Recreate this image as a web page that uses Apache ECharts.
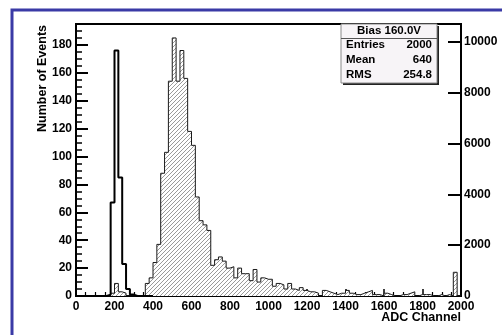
<!DOCTYPE html>
<html>
<head>
<meta charset="utf-8">
<script src="https://cdn.jsdelivr.net/npm/echarts@6/dist/echarts.min.js"></script>
<style>
html, body { margin: 0; padding: 0; background: #fff; }
#chart-h1 { width: 502px; height: 335px; }
</style>
</head>
<body>
<div id="chart-h1"></div>
<script>
// bins are 20 ADC channels wide, 100 bins from 0 to 2000
var binWidth = 20;

// hatched histogram (Bias 160.0V), counts per bin
var biasCounts = [
    0, 0, 0, 0, 0, 0, 0, 0, 0, 2,
    9, 3, 2, 0, 0, 0, 0, 0, 9, 13,
    24, 37, 88, 103, 154, 185, 154, 176, 156, 118,
    108, 71, 54, 51, 47, 22, 26, 28, 25, 20,
    21, 13, 20, 16, 16, 11, 19, 10, 13, 12,
    12, 7, 9, 8, 5, 9, 5, 4, 6, 4,
    3, 3, 2, 0, 4, 3, 2, 1, 2, 2,
    4, 2, 1, 1, 2, 3, 4, 1, 1, 0,
    2, 1, 0, 0, 1, 1, 2, 3, 0, 1,
    1, 1, 0, 0, 1, 0, 1, 0, 17, 0
];

// thick open histogram (pedestal), counts per bin
var pedestalCounts = [
    0, 0, 0, 0, 0, 0, 0, 0, 1, 67,
    176, 85, 23, 5, 1, 0, 0, 0, 0, 0
];

var statsTitle = 'Bias 160.0V';
var statsRows = [
    ['Entries', '2000'],
    ['Mean', '640'],
    ['RMS', '254.8']
];

var FONT = '"Liberation Sans", Arial, sans-serif';

// [binStart, count] pairs + closing point at the upper edge, for step lines
function stepData(counts) {
    var d = [];
    for (var i = 0; i < counts.length; i++) {
        d.push([i * binWidth, counts[i]]);
    }
    d.push([counts.length * binWidth, counts[counts.length - 1]]);
    return d;
}

// "////" hatch fill
function hatchPattern() {
    var c = document.createElement('canvas');
    c.width = 4;
    c.height = 4;
    var g = c.getContext('2d');
    g.fillStyle = '#ffffff';
    g.fillRect(0, 0, 4, 4);
    g.strokeStyle = '#9a9a9a';
    g.lineWidth = 1;
    g.beginPath();
    g.moveTo(0, 4); g.lineTo(4, 0);
    g.moveTo(-1, 1); g.lineTo(1, -1);
    g.moveTo(3, 5); g.lineTo(5, 3);
    g.stroke();
    return c;
}

var chart_h1 = function () {
    var myChart = echarts.init(document.getElementById('chart-h1'));

    var labelStyle = {
        color: '#000',
        fontFamily: FONT,
        fontWeight: 'bold',
        fontSize: 12,
        formatter: function (v) { return String(v); }
    };

    var statsEls = [
        // shadow
        { type: 'rect', shape: { x: 343, y: 26, width: 96, height: 59 }, style: { fill: '#222' }, z: 50 },
        { type: 'rect', shape: { x: 341, y: 24, width: 96, height: 59 }, style: { fill: '#f7f4f7', stroke: '#8a8a8a', lineWidth: 1 }, z: 51 },
        { type: 'line', shape: { x1: 341, y1: 38.5, x2: 437, y2: 38.5 }, style: { stroke: '#555', lineWidth: 1 }, z: 52 },
        {
            type: 'text', x: 389, y: 31, z: 52,
            style: { text: statsTitle, font: 'bold 11.5px ' + FONT, fill: '#000', align: 'center', verticalAlign: 'middle', textAlign: 'center', textVerticalAlign: 'middle' }
        }
    ];
    statsRows.forEach(function (r, i) {
        var y = 45 + i * 14.8;
        statsEls.push({
            type: 'text', x: 346, y: y, z: 52,
            style: { text: r[0], font: 'bold 11.5px ' + FONT, fill: '#000', align: 'left', verticalAlign: 'middle', textAlign: 'left', textVerticalAlign: 'middle' }
        });
        statsEls.push({
            type: 'text', x: 432, y: y, z: 52,
            style: { text: r[1], font: 'bold 11.5px ' + FONT, fill: '#000', align: 'right', verticalAlign: 'middle', textAlign: 'right', textVerticalAlign: 'middle' }
        });
    });

    var option = {
        animation: false,
        backgroundColor: '#fff',
        textStyle: { fontFamily: FONT },
        grid: {
            left: 76,
            right: 41,
            top: 24,
            bottom: 39,
            show: true,
            borderColor: '#000',
            borderWidth: 2,
            backgroundColor: '#fff'
        },
        xAxis: {
            type: 'value',
            min: 0,
            max: 2000,
            interval: 200,
            axisLine: { show: true, onZero: false, lineStyle: { color: '#000', width: 2 } },
            axisTick: { show: true, inside: true, length: 7, lineStyle: { color: '#000', width: 1.5 } },
            minorTick: { show: true, splitNumber: 4, length: 4, lineStyle: { color: '#000', width: 1.2 } },
            axisLabel: Object.assign({ margin: 5 }, labelStyle),
            splitLine: { show: false }
        },
        yAxis: [{
            type: 'value',
            position: 'left',
            min: 0,
            max: 195,
            interval: 20,
            axisLine: { show: true, lineStyle: { color: '#000', width: 2 } },
            axisTick: { show: true, inside: true, length: 12, lineStyle: { color: '#000', width: 2 } },
            minorTick: { show: true, splitNumber: 4, length: 6, lineStyle: { color: '#000', width: 1.5 } },
            axisLabel: Object.assign({ margin: 4, showMaxLabel: false }, labelStyle),
            splitLine: { show: false }
        }, {
            type: 'value',
            position: 'right',
            min: 0,
            max: 10700,
            interval: 2000,
            axisLine: { show: true, lineStyle: { color: '#000', width: 2 } },
            axisTick: { show: true, inside: true, length: 13, lineStyle: { color: '#000', width: 2 } },
            minorTick: { show: false },
            axisLabel: Object.assign({ margin: 3, showMaxLabel: false }, labelStyle),
            splitLine: { show: false }
        }],
        series: [{
            name: statsTitle,
            type: 'line',
            step: 'end',
            yAxisIndex: 0,
            symbol: 'none',
            silent: true,
            lineStyle: { color: '#1a1a1a', width: 1 },
            areaStyle: { color: { image: hatchPattern(), repeat: 'repeat' }, opacity: 1 },
            data: stepData(biasCounts),
            z: 2
        }, {
            name: 'Pedestal',
            type: 'line',
            step: 'end',
            yAxisIndex: 0,
            symbol: 'none',
            silent: true,
            lineStyle: { color: '#000', width: 2 },
            data: stepData(pedestalCounts),
            z: 3
        }],
        graphic: [
            // blue page frame
            { type: 'rect', shape: { x: 12, y: 10, width: 520, height: 360 }, style: { fill: 'transparent', stroke: '#3a3aa6', lineWidth: 3 }, z: 40 },
            {
                type: 'text', x: 43, y: 25, rotation: Math.PI / 2, z: 40,
                style: { text: 'Number of Events', font: 'bold 12.5px ' + FONT, fill: '#000', align: 'right', verticalAlign: 'middle', textAlign: 'right', textVerticalAlign: 'middle' }
            },
            {
                type: 'text', x: 461, y: 318, z: 40,
                style: { text: 'ADC Channel', font: 'bold 12.5px ' + FONT, fill: '#000', align: 'right', verticalAlign: 'middle', textAlign: 'right', textVerticalAlign: 'middle' }
            }
        ].concat(statsEls)
    };
    myChart.setOption(option);
};
chart_h1();
</script>
</body>
</html>
